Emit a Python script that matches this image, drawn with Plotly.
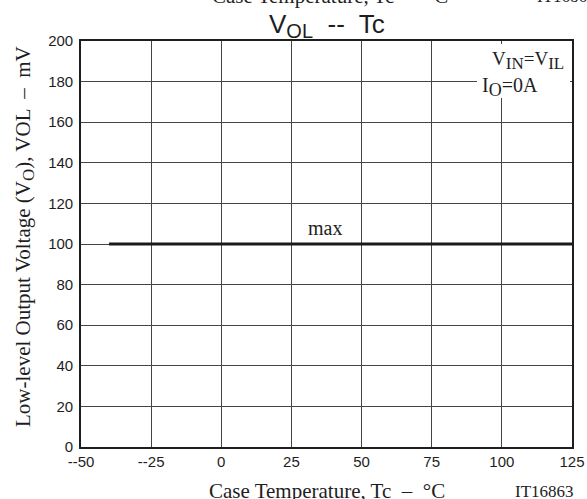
import plotly.graph_objects as go

# Data
temp_c = [-40, 125]
vol_max_mv = [100, 100]
x_ticks = [-50, -25, 0, 25, 50, 75, 100, 125]
x_tick_labels = ["--50", "--25", "0", "25", "50", "75", "100", "125"]
y_ticks = [0, 20, 40, 60, 80, 100, 120, 140, 160, 180, 200]

W, H = 587, 499
# plot area in page pixels
PL, PR, PT, PB = 81, 572, 41, 447


def px_x(p):
    return (p - PL) / (PR - PL)


def px_y(p):
    return (PB - p) / (PB - PT)


def bigsub(s, size):
    return '<sub><span style="font-size:%dpx">%s</span></sub>' % (size, s)


fig = go.Figure()
fig.add_trace(go.Scatter(x=temp_c, y=vol_max_mv, mode="lines",
                         line=dict(color="#1a1a1a", width=3), showlegend=False,
                         hoverinfo="skip"))

serif = "Liberation Serif, Times New Roman, serif"
sans = "Liberation Sans, Arial, sans-serif"
ink = "#1e1e1e"

fig.update_layout(
    width=W, height=H,
    margin=dict(l=PL, r=W - PR, t=PT, b=H - PB, pad=0, autoexpand=False),
    paper_bgcolor="white", plot_bgcolor="white",
    xaxis=dict(range=[-50, 125], tickvals=x_ticks, ticktext=x_tick_labels,
               showgrid=True, gridcolor="#444", gridwidth=1,
               showline=True, linecolor=ink, linewidth=1.6, mirror=True,
               ticks="", zeroline=False, automargin=False,
               tickfont=dict(family=sans, size=15, color=ink)),
    yaxis=dict(range=[0, 200], tickvals=y_ticks,
               showgrid=True, gridcolor="#444", gridwidth=1,
               showline=True, linecolor=ink, linewidth=1.6, mirror=True,
               ticks="", zeroline=False, ticklabelstandoff=3, automargin=False,
               tickfont=dict(family=sans, size=15, color=ink)),
)

# White box behind condition text
fig.add_shape(type="rect", xref="paper", yref="paper",
              x0=px_x(477), x1=px_x(570), y0=px_y(98), y1=px_y(44),
              fillcolor="white", line=dict(width=0), layer="above")

annos = [
    dict(text="V" + bigsub("OL", 20) + "  --  Tc", x=px_x(327), y=px_y(25),
         xanchor="center", yanchor="middle", font=dict(family=sans, size=26, color=ink)),
    dict(text="V" + bigsub("IN", 17) + "=V" + bigsub("IL", 17), x=px_x(490), y=px_y(60),
         xanchor="left", yanchor="middle", font=dict(family=serif, size=19, color=ink)),
    dict(text="I" + bigsub("O", 18) + "=0A", x=px_x(480), y=px_y(87),
         xanchor="left", yanchor="middle", font=dict(family=serif, size=20, color=ink)),
    dict(text="max", x=px_x(325), y=px_y(228), xanchor="center", yanchor="middle",
         font=dict(family=serif, size=20, color=ink)),
    dict(text="Case Temperature, Tc  \u2013  \u00b0C", x=px_x(327), y=px_y(491),
         xanchor="center", yanchor="middle", font=dict(family=serif, size=21, color=ink)),
    dict(text="IT16863", x=px_x(544), y=px_y(492), xanchor="center", yanchor="middle",
         font=dict(family=serif, size=17, color=ink)),
    dict(text="Low-level Output Voltage (V" + bigsub("O", 17) + "), VOL  \u2013  mV",
         x=px_x(24), y=px_y(237), xanchor="center", yanchor="middle", textangle=-90,
         font=dict(family=serif, size=21, color=ink)),
    dict(text="Case Temperature, Tc  \u2013  \u00b0C", x=px_x(330), y=px_y(-4),
         xanchor="center", yanchor="middle", font=dict(family=serif, size=21, color=ink)),
    dict(text="IT16863", x=px_x(566), y=px_y(-4), xanchor="center", yanchor="middle",
         font=dict(family=serif, size=17, color=ink)),
]
for a in annos:
    fig.add_annotation(xref="paper", yref="paper", showarrow=False, **a)

fig.write_html("out.html", config={"displayModeBar": False},
               post_script="document.body.style.margin='0';"
                           "document.documentElement.style.overflow='hidden';")
